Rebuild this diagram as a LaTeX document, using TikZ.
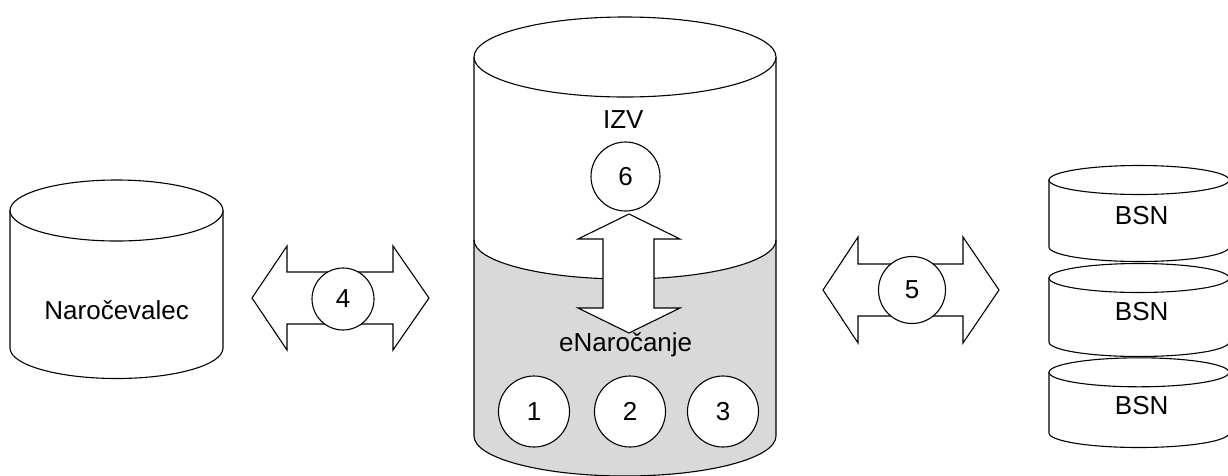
\documentclass[tikz,border=0pt]{standalone}
\usepackage{fontspec}
\setmainfont{Liberation Sans}
\definecolor{lowgray}{RGB}{217,217,217}
\newcommand\mycyl[5]{%
  \filldraw[fill=white] ({#1-#2},#3) -- ({#1-#2},#4) arc[start angle=180,end angle=0,x radius=#2,y radius=#5] -- ({#1+#2},#3) -- cycle;
  \filldraw[fill=white] (#1,#3) ellipse[x radius=#2,y radius=#5];
}
\begin{document}
\begin{tikzpicture}[x=1pt,y=-1pt,line width=1.1pt,line join=miter,
  lbl/.style={font=\fontsize{26}{31}\selectfont,inner sep=0pt,anchor=base},
  num/.style={draw,fill=white,circle,inner sep=0pt,font=\fontsize{26}{31}\selectfont},
  blockarrow/.style={draw,fill=white}]
\useasboundingbox (0,0) rectangle (1228,475);
\clip (0,0) rectangle (1228,475);

% Narocevalec
\mycyl{116.5}{106.5}{210.5}{348}{30.5}
\node[lbl] (nar) at (116.7,319.3) {Naročevalec};

% central cylinder
\fill[lowgray] (474,240) arc[start angle=180,end angle=0,x radius=151,y radius=39] -- (776,436) arc[start angle=0,end angle=180,x radius=151,y radius=40] -- cycle;
\fill[white] (474,57) -- (474,240) arc[start angle=180,end angle=0,x radius=151,y radius=39] -- (776,57) -- cycle;
\draw (474,57) -- (474,436) arc[start angle=180,end angle=0,x radius=151,y radius=40] -- (776,57);
\filldraw[fill=white] (625,57) ellipse[x radius=151,y radius=40];
\draw (474,240) arc[start angle=180,end angle=0,x radius=151,y radius=39];
\node[lbl] (izv) at (623.3,128.3) {IZV};
\node[lbl] (en) at (625.7,351.7) {eNaročanje};

% vertical double arrow
\draw[blockarrow] (629,214) -- (680,239) -- (654,239) -- (654,308) -- (680,308) -- (629,333) -- (578,308) -- (603,308) -- (603,239) -- (578,239) -- cycle;

\node[num,minimum size=69pt] (c6) at (625.5,176.5) {6};
\node[num,minimum size=71pt] (c1) at (534,411.5) {1};
\node[num,minimum size=71pt] (c2) at (630,411.5) {2};
\node[num,minimum size=71pt] (c3) at (723,411.5) {3};

% arrow 4
\draw[blockarrow] (252,298) -- (287,246) -- (287,272) -- (393,272) -- (393,246) -- (429,298) -- (393,350) -- (393,324) -- (287,324) -- (287,350) -- cycle;
\node[num,minimum size=62pt] (c4) at (343,299) {4};

% arrow 5
\draw[blockarrow] (823,290) -- (858,237) -- (858,264) -- (963,264) -- (963,237) -- (999,290) -- (963,343) -- (963,316) -- (858,316) -- (858,343) -- cycle;
\node[num,minimum size=67pt] (c5) at (912,290) {5};

% BSN stack
\mycyl{1139}{90}{180}{247}{14.5}
\node[lbl] (b1) at (1141.7,224) {BSN};
\mycyl{1139}{90}{278}{342}{14.5}
\node[lbl] (b2) at (1141.7,320) {BSN};
\mycyl{1139}{90}{372.3}{433}{14.5}
\node[lbl] (b3) at (1141.7,414) {BSN};
\end{tikzpicture}
\end{document}
